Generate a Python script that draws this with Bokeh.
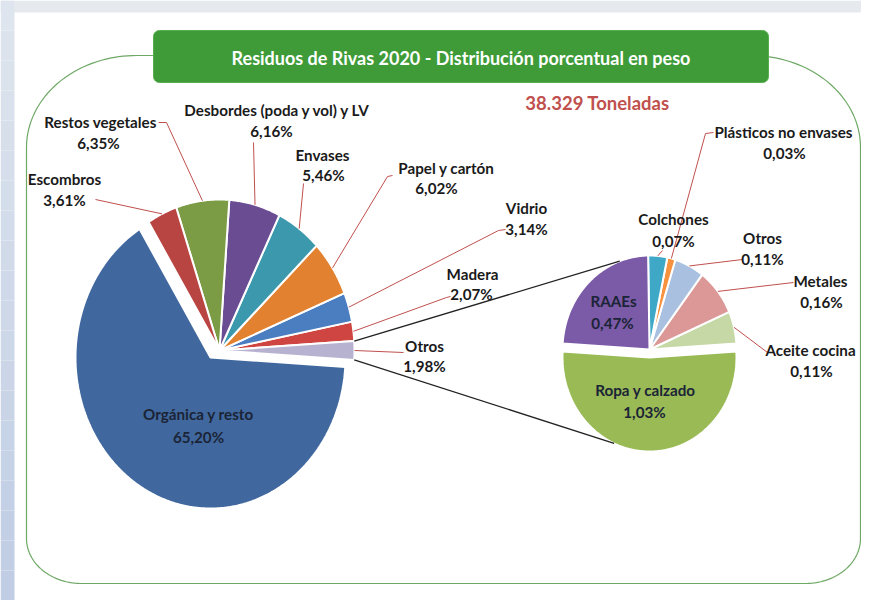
import numpy as np
from bokeh.plotting import figure
from bokeh.models import Range1d
from bokeh.embed import file_html
from bokeh.resources import INLINE
from bokeh.core.properties import value

# ---------------- data ----------------
title_text = "Residuos de Rivas 2020 - Distribución porcentual en peso"
total_text = "38.329 Toneladas"

main_names = ["Madera", "Vidrio", "Papel y cartón", "Envases",
              "Desbordes (poda y vol) y LV", "Restos vegetales", "Escombros",
              "Orgánica y resto", "Otros"]
main_values = [2.07, 3.14, 6.02, 5.46, 6.16, 6.35, 3.61, 65.20, 1.98]

sub_names = ["Aceite cocina", "Metales", "Otros", "Plásticos no envases",
             "Colchones", "RAAEs", "Ropa y calzado"]
sub_values = [0.11, 0.16, 0.11, 0.03, 0.07, 0.47, 1.03]

# ---------------- styles ----------------
main_colors = ["#cf4541", "#4a7ec0", "#e2812f", "#3b98ad", "#6a4c92",
               "#7b9c45", "#b94543", "#40689e", "#b7b2d0"]
sub_colors = ["#c5d8a6", "#db9896", "#a9c0e0", "#f7923e", "#3fa8c6",
              "#7b5aa7", "#99ba55"]

FONT = value("Lato")
LABEL_COLOR = "#1a1a1a"
INNER_COLOR = "#1b2436"
LEADER_COLOR = "#c0504d"
LABEL_SIZE = "15.2px"

# ---------------- layout (pixel space, y down) ----------------
MAIN_C = (219.0, 350.0)
MAIN_RX, MAIN_RY = 135.0, 151.0
MAIN_EXPLODE = {"Orgánica y resto": (-9.0, 7.0)}

SUB_C = (649.0, 349.0)
SUB_RX, SUB_RY = 87.0, 94.0
SUB_EXPLODE = {"Ropa y calzado": (0.0, 8.0)}

main_label_pos = {
    "Madera": (472, 273, 471, 293),
    "Vidrio": (526, 207, 526, 228),
    "Papel y cartón": (446, 167, 436, 187),
    "Envases": (322, 154, 323, 174),
    "Desbordes (poda y vol) y LV": (277, 109, 271, 130),
    "Restos vegetales": (100, 121, 98, 142),
    "Escombros": (64, 178, 64, 199),
    "Orgánica y resto": (198, 413, 198, 436),
    "Otros": (424, 345, 424, 365),
}
main_inner = {"Orgánica y resto"}

sub_label_pos = {
    "Aceite cocina": (810, 349, 811, 370),
    "Metales": (820, 280, 821, 301),
    "Otros": (762, 237, 762, 258),
    "Plásticos no envases": (783, 131, 784, 152),
    "Colchones": (673, 218, 673, 240),
    "RAAEs": (613, 300, 612, 322),
    "Ropa y calzado": (645, 389, 644, 411),
}
sub_inner = {"RAAEs", "Ropa y calzado"}

main_leader_start = {
    "Escombros": [(95, 199)],
    "Restos vegetales": [(158, 122), (166, 122)],
    "Desbordes (poda y vol) y LV": [(253, 142)],
    "Envases": [(303, 183)],
    "Papel y cartón": [(392, 175), (387, 176)],
    "Vidrio": [(505, 229), (498, 230)],
    "Madera": [(450, 296), (446, 297)],
    "Otros": [(403, 352)],
}
sub_leader_start = {
    "Colchones": [(662, 250)],
    "Plásticos no envases": [(713, 132), (705, 133)],
    "Otros": [(742, 259)],
    "Metales": [(793, 282)],
    "Aceite cocina": [(767, 352)],
}
CONNECT_UP_DEG, CONNECT_DOWN_DEG = 110.0, -114.0


def pct(v):
    return f"{v:.2f}".replace(".", ",") + "%"


def slice_angles(values, start):
    deg = 360.0 / sum(values)
    out, a = [], start
    for v in values:
        out.append((a, a + v * deg))
        a += v * deg
    return out


def ell_pt(c, rx, ry, ang):
    t = np.radians(ang)
    return c[0] + rx * np.cos(t), c[1] - ry * np.sin(t)


def wedge_poly(c, rx, ry, a0, a1):
    t = np.linspace(a0, a1, max(6, int(abs(a1 - a0) * 2)))
    xs = [c[0]] + list(c[0] + rx * np.cos(np.radians(t)))
    ys = [c[1]] + list(c[1] - ry * np.sin(np.radians(t)))
    return xs, ys


def rrect(x0, y0, x1, y1, rtx, rty, rbx, rby, n=40):
    xs, ys = [], []
    corners = [((x1 - rtx, y0 + rty), rtx, rty, 0, 90),
               ((x0 + rtx, y0 + rty), rtx, rty, 90, 180),
               ((x0 + rbx, y1 - rby), rbx, rby, 180, 270),
               ((x1 - rbx, y1 - rby), rbx, rby, 270, 360)]
    for c, rx, ry, a0, a1 in corners:
        t = np.radians(np.linspace(a0, a1, n))
        xs += list(c[0] + rx * np.cos(t))
        ys += list(c[1] - ry * np.sin(t))
    xs.append(xs[0]); ys.append(ys[0])
    return xs, ys


p = figure(width=861, height=600, x_range=Range1d(0, 861), y_range=Range1d(600, 0),
           toolbar_location=None, output_backend="svg", min_border=0,
           x_axis_type=None, y_axis_type=None)
p.grid.visible = False
p.outline_line_color = None
p.background_fill_color = "white"
p.border_fill_color = "white"

# slide background strips
p.quad(left=[0], right=[861], top=[0], bottom=[12], fill_color="#e6eaef", line_color=None)
band_y = np.linspace(0, 600, 21)
band_cols = [f"#{int(222 - 30 * k / 19):02x}{int(229 - 24 * k / 19):02x}{int(238 - 10 * k / 19):02x}" for k in range(20)]
p.quad(left=[0] * 20, right=[14] * 20, top=list(band_y[:-1]), bottom=list(band_y[1:]),
       fill_color=band_cols, line_color=None)

# rounded frame
bx, by = rrect(26, 55, 860, 583, 110, 92, 55, 45)
p.line(bx, by, line_color="#6ea865", line_width=1.2)

# title box
tx, ty = rrect(153, 30, 768, 82, 6, 6, 6, 6, n=8)
p.patch(tx, ty, fill_color="#3e9b37", line_color="#58ad4f", line_width=1)
p.text(x=[460.5], y=[57], text=[title_text], text_font=FONT, text_font_style="bold",
       text_font_size="18px", text_color="white", text_align="center", text_baseline="middle")
p.text(x=[597], y=[102], text=[total_text], text_font=FONT, text_font_style="bold",
       text_font_size="18.5px", text_color="#c0504d", text_align="center", text_baseline="middle")

# ---------------- main pie ----------------
main_deg = 360.0 / sum(main_values)
main_start = main_values[-1] * main_deg / 2.0
m_ang = slice_angles(main_values, main_start)
xs_all, ys_all = [], []
m_centers = {}
for name, (a0, a1) in zip(main_names, m_ang):
    dx, dy = MAIN_EXPLODE.get(name, (0.0, 0.0))
    c = (MAIN_C[0] + dx, MAIN_C[1] + dy)
    m_centers[name] = c
    xs, ys = wedge_poly(c, MAIN_RX, MAIN_RY, a0, a1)
    xs_all.append(xs); ys_all.append(ys)
p.patches(xs_all, ys_all, fill_color=main_colors, line_color="white", line_width=2)

# ---------------- sub pie ----------------
sub_deg = 360.0 / sum(sub_values)
sub_start = -90.0 - (sum(sub_values[:-1]) + sub_values[-1] / 2.0) * sub_deg
s_ang = slice_angles(sub_values, sub_start)
xs_all, ys_all = [], []
s_centers = {}
for name, (a0, a1) in zip(sub_names, s_ang):
    dx, dy = SUB_EXPLODE.get(name, (0.0, 0.0))
    c = (SUB_C[0] + dx, SUB_C[1] + dy)
    s_centers[name] = c
    xs, ys = wedge_poly(c, SUB_RX, SUB_RY, a0, a1)
    xs_all.append(xs); ys_all.append(ys)
p.patches(xs_all, ys_all, fill_color=sub_colors, line_color="white", line_width=2)

# ---------------- connector lines ----------------
otros_a0, otros_a1 = m_ang[-1]
up0 = ell_pt(MAIN_C, MAIN_RX, MAIN_RY, otros_a1)
dn0 = ell_pt(MAIN_C, MAIN_RX, MAIN_RY, otros_a0)
up1 = ell_pt(SUB_C, SUB_RX, SUB_RY, CONNECT_UP_DEG)
dn1 = ell_pt(s_centers[sub_names[-1]], SUB_RX, SUB_RY, CONNECT_DOWN_DEG)
p.multi_line([[up0[0], up1[0]], [dn0[0], dn1[0]]], [[up0[1], up1[1]], [dn0[1], dn1[1]]],
             line_color="#222222", line_width=1.3)

# ---------------- leader lines ----------------
lx, ly = [], []
for name, (a0, a1) in zip(main_names, m_ang):
    if name in main_leader_start:
        pts = list(main_leader_start[name])
        pts.append(ell_pt(m_centers[name], MAIN_RX, MAIN_RY, (a0 + a1) / 2.0))
        lx.append([q[0] for q in pts]); ly.append([q[1] for q in pts])
for name, (a0, a1) in zip(sub_names, s_ang):
    if name in sub_leader_start:
        pts = list(sub_leader_start[name])
        pts.append(ell_pt(s_centers[name], SUB_RX, SUB_RY, (a0 + a1) / 2.0))
        lx.append([q[0] for q in pts]); ly.append([q[1] for q in pts])
p.multi_line(lx, ly, line_color=LEADER_COLOR, line_width=1)

# ---------------- labels ----------------
def draw_labels(names, values, pos, inner):
    x1, y1, t1, x2, y2, t2, cols = [], [], [], [], [], [], []
    for name, v in zip(names, values):
        a, b, c, d = pos[name]
        x1.append(a); y1.append(b); t1.append(name)
        x2.append(c); y2.append(d); t2.append(pct(v))
        cols.append(INNER_COLOR if name in inner else LABEL_COLOR)
    for xx, yy, tt in ((x1, y1, t1), (x2, y2, t2)):
        p.text(x=xx, y=yy, text=tt, text_font=FONT, text_font_style="bold",
               text_font_size=LABEL_SIZE, text_color=cols, text_align="center",
               text_baseline="middle")

draw_labels(main_names, main_values, main_label_pos, main_inner)
draw_labels(sub_names, sub_values, sub_label_pos, sub_inner)

open("out.html", "w").write(file_html(p, INLINE))
